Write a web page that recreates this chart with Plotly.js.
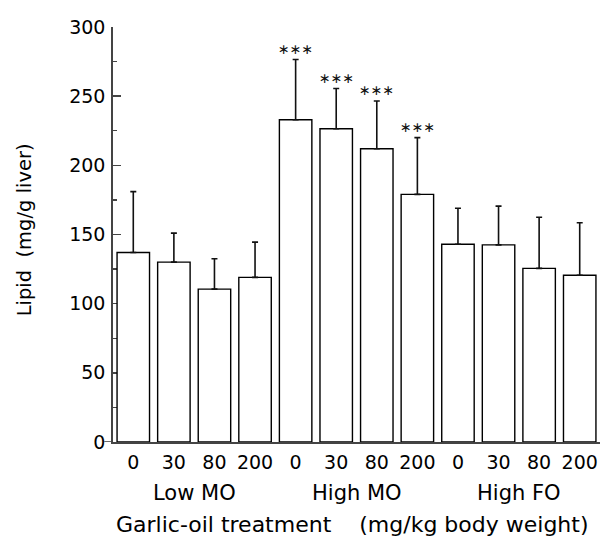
<!DOCTYPE html>
<html>
<head>
<meta charset="utf-8">
<script src="https://cdn.plot.ly/plotly-3.0.1.min.js"></script>
<style>html,body{margin:0;padding:0;background:#fff;}#chart{width:603px;height:539px;}</style>
</head>
<body>
<div id="chart"></div>
<script>
var groups = ["Low MO", "High MO", "High FO"];
var doses = ["0", "30", "80", "200"];
var doseLabels = ["0", "30", "80", "200", "0", "30", "80", "200", "0", "30", "80", "200"];
var lipid = [137, 130, 110.5, 119, 233, 226.5, 212, 179, 143, 142.5, 125.5, 120.5];
var sem = [44, 21, 22, 25.5, 43.5, 29, 34.5, 41, 26, 28, 37, 38];
var significant = [false, false, false, false, true, true, true, true, false, false, false, false];

var xs = lipid.map(function (v, i) { return i; });
var font = "DejaVu Sans, sans-serif";

var trace = {
  type: "bar",
  x: xs,
  y: lipid,
  marker: { color: "#ffffff", line: { color: "#000000", width: 1.4 } },
  error_y: { type: "data", array: sem, arrayminus: sem.map(function () { return 0; }), symmetric: false, color: "#111111", thickness: 1.6, width: 3 },
  hoverinfo: "none"
};

var annotations = [];
xs.forEach(function (x, i) {
  if (significant[i]) {
    annotations.push({
      x: x, y: lipid[i] + sem[i], xref: "x", yref: "y",
      text: "\u2217\u2217\u2217", showarrow: false, yanchor: "bottom", yshift: 1,
      font: { family: font, size: 14, color: "#111" }
    });
  }
});
groups.forEach(function (g, gi) {
  annotations.push({
    x: gi * doses.length + (doses.length - 1) / 2, y: 0, xref: "x", yref: "y",
    text: g, showarrow: false, yanchor: "middle", yshift: -51,
    font: { family: font, size: 21, color: "#000" }
  });
});
annotations.push({
  x: 5.5, y: 0, xref: "x", yref: "y", xshift: -4,
  text: "Garlic-oil treatment\u00a0\u00a0\u00a0\u00a0(mg/kg body weight)", showarrow: false, yanchor: "middle", yshift: -82,
  font: { family: font, size: 22, color: "#000" }
});
annotations.push({
  x: 0, y: 153, xref: "paper", yref: "y", xshift: -89,
  text: "Lipid\u00a0\u00a0(mg/g liver)", showarrow: false, textangle: -90, xanchor: "center", yanchor: "middle",
  font: { family: font, size: 19.5, color: "#000" }
});

var layout = {
  width: 603, height: 539,
  margin: { l: 113, r: 3, t: 27, b: 97 },
  paper_bgcolor: "#ffffff", plot_bgcolor: "#ffffff",
  showlegend: false,
  bargap: 0.2,
  font: { family: font, color: "#000" },
  xaxis: {
    range: [-0.5, 11.5],
    tickvals: xs, ticktext: doseLabels,
    showline: true, linecolor: "#444", linewidth: 1.6,
    showgrid: false, zeroline: false, ticks: "",
    tickfont: { family: font, size: 19, color: "#000" },
    ticklabelstandoff: 3,
    fixedrange: true
  },
  yaxis: {
    range: [0, 300],
    tickvals: [0, 50, 100, 150, 200, 250, 300],
    showline: true, linecolor: "#444", linewidth: 1.8,
    showgrid: false, zeroline: false,
    ticks: "inside", ticklen: 8, tickwidth: 1.5, tickcolor: "#444",
    minor: { dtick: 25, ticks: "inside", ticklen: 4, tickwidth: 1.3, tickcolor: "#444" },
    ticklabelstandoff: 2,
    layer: "below traces",
    tickfont: { family: font, size: 19, color: "#000" },
    fixedrange: true
  },
  shapes: [{
    type: "line", xref: "paper", yref: "y", x0: -0.018, x1: 0, y0: 0, y1: 0,
    line: { color: "#444", width: 1.6 }
  }],
  annotations: annotations
};

Plotly.newPlot("chart", [trace], layout, { displayModeBar: false, staticPlot: true });
</script>
</body>
</html>
